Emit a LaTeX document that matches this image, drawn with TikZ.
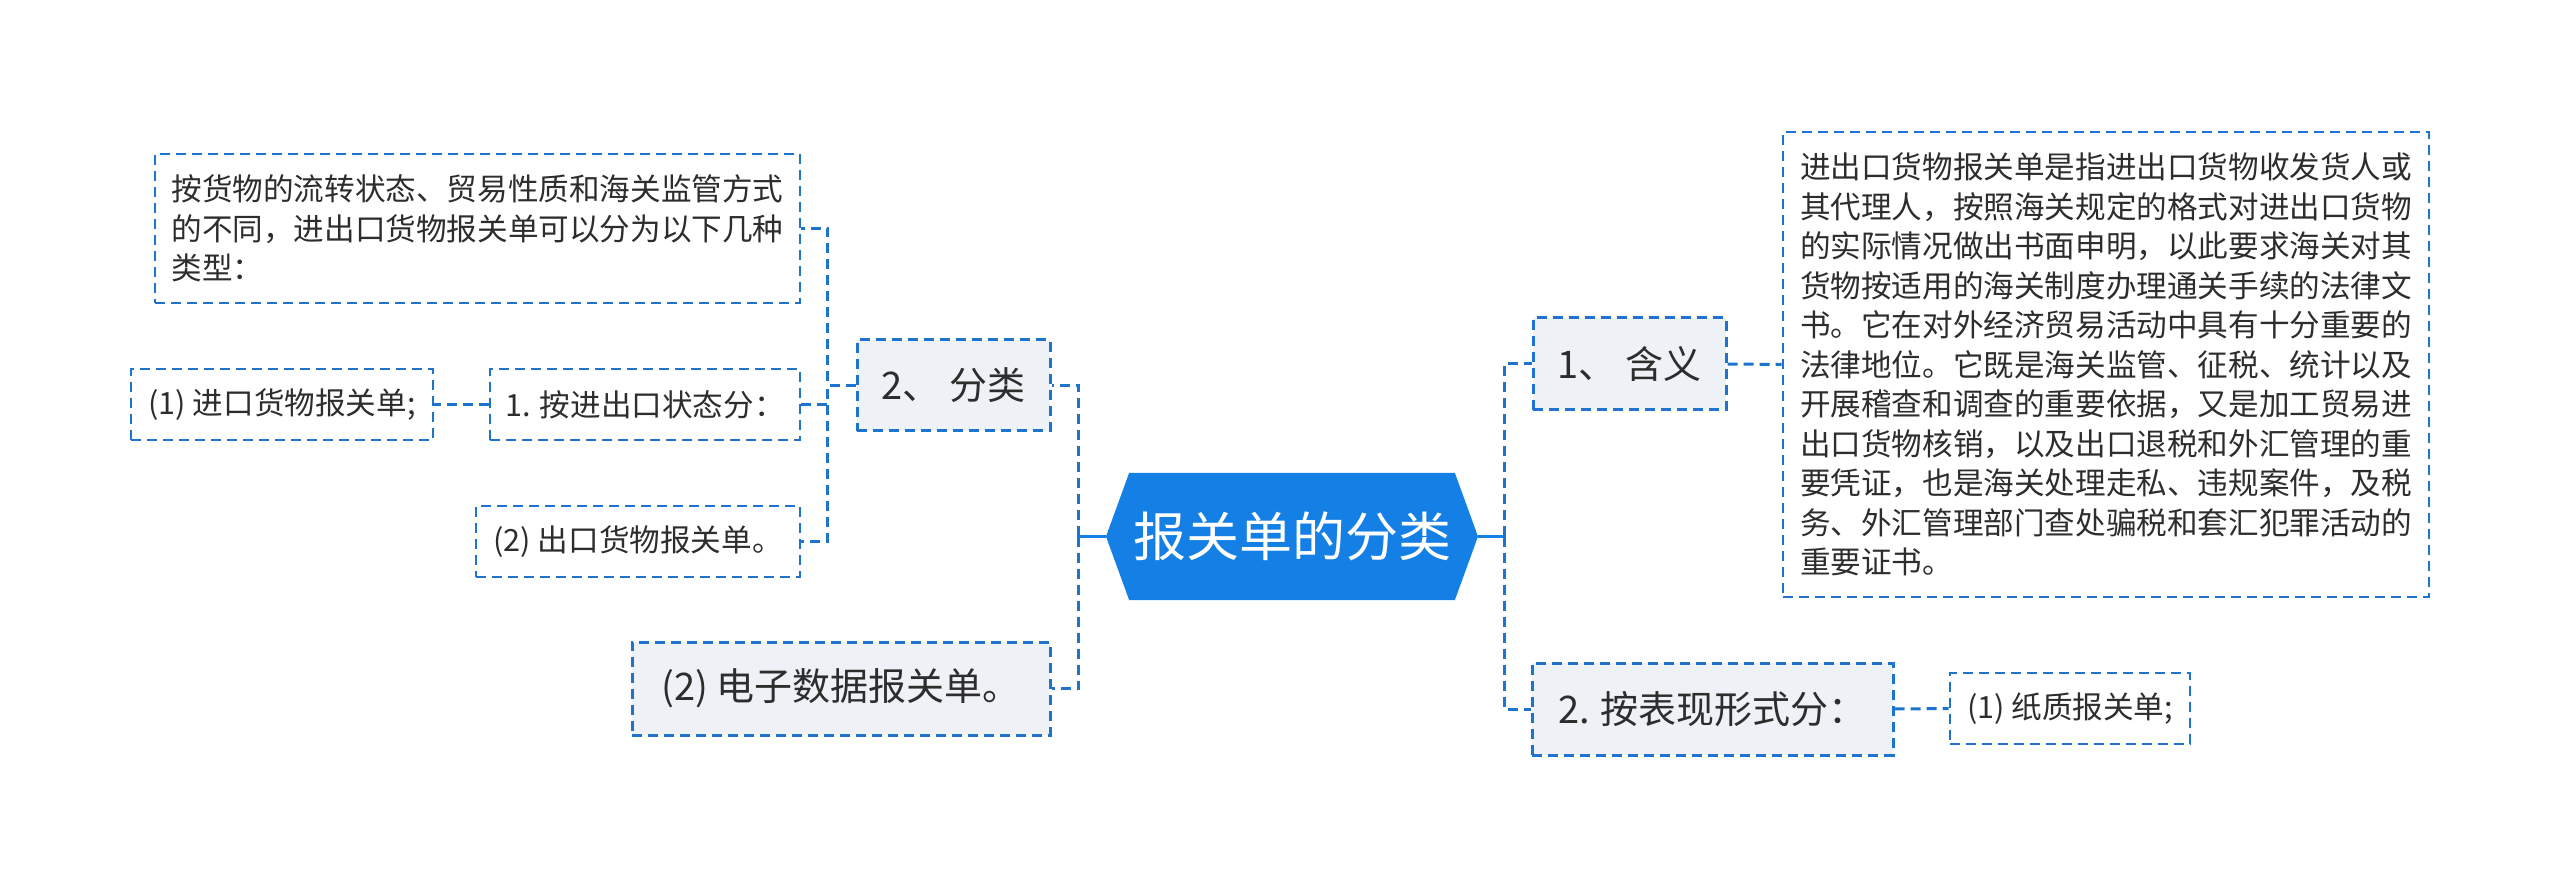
\documentclass[tikz,border=0pt]{standalone}
\usepackage{fontspec}
\setmainfont{Noto Sans CJK SC}
\usetikzlibrary{shapes.symbols}
\definecolor{mainblue}{RGB}{20,127,229}
\definecolor{linkblue}{RGB}{30,116,204}
\definecolor{boxgray}{RGB}{238,241,245}
\definecolor{txtgray}{RGB}{45,45,45}
\begin{document}
\begin{tikzpicture}[x=0.5pt,y=-0.5pt,
  rootnode/.style={signal, signal to=west and east, signal pointer angle=140, fill=mainblue, text=white, inner sep=0pt, minimum width=186pt, minimum height=63.5pt, font=\fontsize{26.5pt}{30pt}\selectfont},
  topic/.style={draw=linkblue, dash pattern=on 5pt off 3pt, line width=1.5pt, fill=boxgray, text=txtgray, inner sep=0pt, font=\fontsize{19pt}{23pt}\selectfont},
  leaf/.style={draw=linkblue, dash pattern=on 5pt off 3pt, line width=1.4pt, text=txtgray, inner sep=0pt, align=left, font=\fontsize{15.3pt}{19.75pt}\selectfont},
  link/.style={draw=linkblue, dash pattern=on 5pt off 3pt, line width=1.5pt},
  rootlink/.style={draw=mainblue, line width=1.5pt}]
\useasboundingbox (0,0) rectangle (2560,887);
\node[rootnode] (n0) at (1292,536.5) {报关单的分类};
\node[topic, minimum width=96.5pt, minimum height=45.5pt] (n1) at (953.5,385.5) {2、 分类};
\node[topic, minimum width=209pt, minimum height=46.5pt] (n2) at (841,688.5) {(2) 电子数据报关单。};
\node[topic, minimum width=96.5pt, minimum height=46pt] (n3) at (1629.5,364) {1、 含义};
\node[topic, minimum width=180.5pt, minimum height=46pt] (n4) at (1712.5,709) {2. 按表现形式分：};
\node[leaf, minimum width=322.5pt, minimum height=74.5pt] (n5) at (477.5,228.5) {按货物的流转状态、贸易性质和海关监管方式\\的不同，进出口货物报关单可以分为以下几种\\类型：};
\node[leaf, minimum width=155pt, minimum height=35.5pt] (n6) at (645,404.5) {1. 按进出口状态分：};
\node[leaf, minimum width=162pt, minimum height=35.5pt] (n7) at (638,541.5) {(2) 出口货物报关单。};
\node[leaf, minimum width=151pt, minimum height=35.5pt] (n8) at (282,404.5) {(1) 进口货物报关单;};
\node[leaf, minimum width=323pt, minimum height=232.5pt] (n9) at (2106,364.5) {进出口货物报关单是指进出口货物收发货人或\\其代理人，按照海关规定的格式对进出口货物\\的实际情况做出书面申明，以此要求海关对其\\货物按适用的海关制度办理通关手续的法律文\\书。它在对外经济贸易活动中具有十分重要的\\法律地位。它既是海关监管、征税、统计以及\\开展稽查和调查的重要依据，又是加工贸易进\\出口货物核销，以及出口退税和外汇管理的重\\要凭证，也是海关处理走私、违规案件，及税\\务、外汇管理部门查处骗税和套汇犯罪活动的\\重要证书。};
\node[leaf, minimum width=120pt, minimum height=35.5pt] (n10) at (2070,708.5) {(1) 纸质报关单;};
% left side
\draw[rootlink] (n0.west) -- ++(-27,0);
\draw[link] (n0.west) ++(-27,0) |- (n1.east);
\draw[link] (n0.west) ++(-27,0) |- (n2.east);
\draw[link] (n1.west) -- ++(-28,0) |- (n5.east);
\draw[link] (n1.west) -- ++(-28,0) |- (n6.east);
\draw[link] (n1.west) -- ++(-28,0) |- (n7.east);
\draw[link] (n6.west) -- (n8.east);
% right side
\draw[rootlink] (n0.east) -- ++(26,0);
\draw[link] (n0.east) ++(26,0) |- (n3.west);
\draw[link] (n0.east) ++(26,0) |- (n4.west);
\draw[link] (n3.east) -- (n9.west);
\draw[link] (n4.east) -- (n10.west);
\end{tikzpicture}
\end{document}
